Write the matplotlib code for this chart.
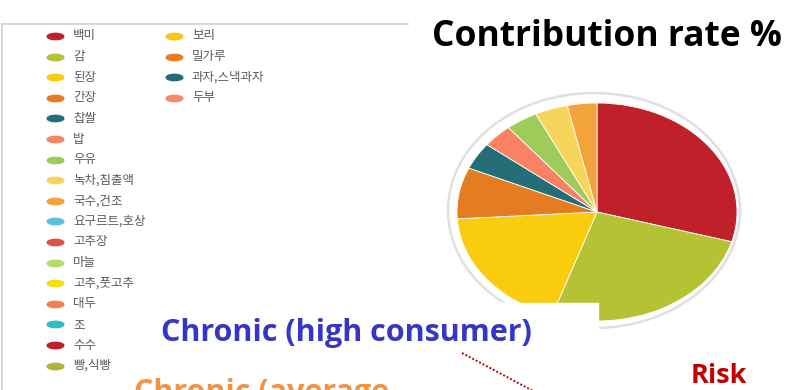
import matplotlib.pyplot as plt
import matplotlib.path as mpath
from matplotlib.patches import Ellipse, Rectangle
import numpy as np

plt.rcParams['font.family'] = ['Noto Sans CJK KR', 'DejaVu Sans']

# pie slices (contribution %), clockwise from 12 o'clock
pie_labels = ['백미', '감', '된장', '간장', '찹쌀', '밥', '우유', '녹차,침출액', '국수,건조']
pie_values = [29.4, 25.8, 18.8, 7.6, 4.0, 3.5, 3.7, 3.8, 3.4]

# legend entries, two columns
legend_col1 = ['백미', '감', '된장', '간장', '찹쌀', '밥', '우유', '녹차,침출액', '국수,건조',
               '요구르트,호상', '고추장', '마늘', '고추,풋고추', '대두', '조', '수수', '빵,식빵']
legend_col2 = ['보리', '밀가루', '과자,스낵과자', '두부']

colors = {
    '백미': '#C0202A', '감': '#B5C234', '된장': '#F9CD0E', '간장': '#E67C22',
    '찹쌀': '#246E78', '밥': '#F98264', '우유': '#9ECB5A', '녹차,침출액': '#F7D45A',
    '국수,건조': '#F2A43A', '요구르트,호상': '#5BC0DE', '고추장': '#D9534F',
    '마늘': '#B5DC6A', '고추,풋고추': '#F4E00F', '대두': '#EE7F55', '조': '#2BBFC0',
    '수수': '#C21E2B', '빵,식빵': '#B0B534', '보리': '#F9C80E', '밀가루': '#E87D22',
    '과자,스낵과자': '#236D78', '두부': '#F98866',
}

W, H = 810, 390
fig = plt.figure(figsize=(W / 100, H / 100), dpi=100)

# background layer in pixel coordinates
bg = fig.add_axes([0, 0, 1, 1])
bg.set_xlim(0, W)
bg.set_ylim(H, 0)
bg.axis('off')

# panel border around the legend
bg.plot([2, 408], [24, 24], color='#cfcfcf', lw=1.2)
bg.plot([2, 2], [24, H], color='#cfcfcf', lw=1.2)

# flat ellipse marker for legend swatches
t = np.linspace(0, 2 * np.pi, 60)
swatch = mpath.Path(np.column_stack([np.cos(t), 0.38 * np.sin(t)]))

row0, step = 36, 20.6
for col, names in [(55, legend_col1), (174, legend_col2)]:
    for i, name in enumerate(names):
        y = row0 + i * step
        bg.plot(col, y, marker=swatch, markersize=12, color=colors[name], ls='none')
        bg.text(col + 18, y, name, fontsize=9, color='#5a5a5a', va='center', ha='left')

# grey rim behind the pie
bg.add_patch(Ellipse((594, 210.5), 292, 235, fill=False, ec='#e0e0e0', lw=1.8))

# pie, squashed into an ellipse
pie_ax = fig.add_axes([457 / W, (H - 321) / H, 280 / W, 218 / H])
pie_ax.pie(pie_values, colors=[colors[n] for n in pie_labels], startangle=90,
           counterclock=False, wedgeprops=dict(edgecolor='white', linewidth=0.6))
pie_ax.set_aspect('auto')
pie_ax.set_xlim(-1, 1)
pie_ax.set_ylim(-1, 1)
pie_ax.axis('off')

# annotation layer on top
top = fig.add_axes([0, 0, 1, 1])
top.set_xlim(0, W)
top.set_ylim(H, 0)
top.axis('off')
top.patch.set_alpha(0)

top.add_patch(Rectangle((150, 303), 448, 52, color='white', zorder=1))
top.text(432, 37, 'Contribution rate %', fontsize=25.5, fontweight='bold',
         family=['Open Sans'], color='black', va='center', ha='left')
top.text(161, 333, 'Chronic (high consumer)', fontsize=22, fontweight='bold',
         family=['Open Sans'], color='#3535C8', va='center', ha='left', zorder=2)
top.text(134, 378, 'Chronic (average', fontsize=22, fontweight='bold',
         family=['Open Sans'], color='#F59242', va='top', ha='left', zorder=2)
top.text(691, 376, 'Risk', fontsize=19.5, fontweight='bold',
         family=['Open Sans'], color='#C00000', va='center', ha='left', zorder=2)
top.plot([462, 535], [353, 392], ls=(0, (1, 1)), color='#C00000', lw=1.4, zorder=2,
         clip_on=False)

fig.savefig('out.png', dpi=100)
